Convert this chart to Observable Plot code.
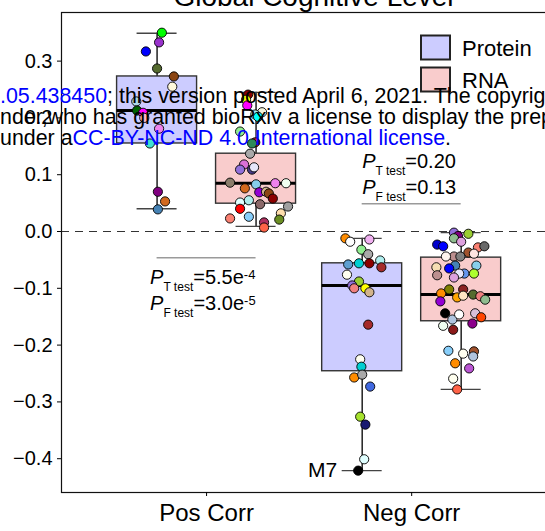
<!DOCTYPE html>
<html>
<head>
<meta charset="utf-8">
<script src="https://cdn.jsdelivr.net/npm/d3@7"></script>
<script src="https://cdn.jsdelivr.net/npm/@observablehq/plot@0.6"></script>
<style>
  html, body { margin: 0; padding: 0; background: #fff; overflow: hidden; }
  #wrap { position: relative; width: 545px; height: 531px; overflow: hidden; }
  #wrap svg { max-width: none !important; }
  #overlay { position: absolute; left: 0; top: 0; pointer-events: none; }
</style>
</head>
<body>
<div id="wrap"></div>
<script>
// ---- data ---------------------------------------------------------------
const groups = ["Pos Corr", "Neg Corr"];
const assays = ["Protein", "RNA"];
const yTicks = [-0.4, -0.3, -0.2, -0.1, 0.0, 0.1, 0.2, 0.3];

// box summaries, in order: Pos/Protein, Pos/RNA, Neg/Protein, Neg/RNA
const boxGroups   = ["Pos Corr", "Pos Corr", "Neg Corr", "Neg Corr"];
const boxAssays   = ["Protein", "RNA", "Protein", "RNA"];
const whiskerLow  = [0.040, 0.009, -0.421, -0.278];
const quartile1   = [0.155, 0.049, -0.246, -0.158];
const medians     = [0.213, 0.085, -0.095, -0.111];
const quartile3   = [0.273, 0.137, -0.056, -0.046];
const whiskerHigh = [0.349, 0.245, -0.012, -0.002];

// module correlations (value), module colour, spread within the box (-1..1)
const posProteinValues  = [0.350, 0.333, 0.317, 0.287, 0.273, 0.255, 0.229, 0.213, 0.209, 0.200, 0.181, 0.155, 0.070, 0.053, 0.039];
const posProteinModules = ["#00ff00", "#9932cc", "#0000ff", "#556b2f", "#8b4513", "#fff8dc", "#add8e6", "#006400", "#ff00ff", "#ffb6c1", "#ee82ee", "#40e0d0", "#800080", "#d2691e", "#4682b4"];
const posProteinSpread  = [0.12, 0.05, -0.28, 0, 0.42, 0.38, -0.52, -0.50, -0.35, -0.32, 0.05, -0.18, 0.02, 0.2, 0.02];

const posRnaValues  = [0.241, 0.232, 0.222, 0.210, 0.206, 0.202, 0.176, 0.157, 0.155, 0.137, 0.118, 0.109, 0.109, 0.113, 0.086, 0.083, 0.076, 0.085, 0.085, 0.069, 0.070, 0.067, 0.058, 0.051, 0.055, 0.048, 0.040, 0.044, 0.023, 0.026, 0.032, 0.021, 0.016, 0.007];
const posRnaModules = ["#8b0000", "#ffff00", "#ff00ff", "#f5f5dc", "#afeeee", "#00ffff", "#90ee90", "#b22222", "#2e8b57", "#a9a9a9", "#da70d6", "#9370db", "#483d8b", "#e6e6fa", "#8b7d6b", "#87ceeb", "#d2691e", "#ee82ee", "#f0fff0", "#9400d3", "#d2b48c", "#8b4513", "#8b0000", "#e0ffff", "#afeeee", "#8b6969", "#ff0000", "#a0a0a0", "#fa8072", "#87cefa", "#ffdead", "#6b8e23", "#b03060", "#ff6347"];
const posRnaSpread  = [-0.2, -0.25, -0.22, 0.15, -0.02, 0.05, -0.4, -0.02, -0.1, -0.15, -0.3, -0.4, -0.1, -0.05, -0.65, 0, -0.28, 0.48, 0.75, 0.08, 0.25, 0.32, 0.42, -0.4, -0.18, 0.1, -0.4, 0.8, -0.65, -0.18, 0.62, 0.58, 0.2, 0.2];

const negProteinValues  = [-0.012, -0.018, -0.014, -0.032, -0.040, -0.058, -0.056, -0.056, -0.051, -0.063, -0.076, -0.088, -0.095, -0.100, -0.100, -0.107, -0.164, -0.225, -0.238, -0.257, -0.252, -0.273, -0.326, -0.340, -0.401, -0.421];
const negProteinModules = ["#ff8c00", "#ffffff", "#f0b0f0", "#90ee90", "#a9a9a9", "#5f9fd0", "#00ced1", "#8b0000", "#afeeee", "#a52a2a", "#fffff0", "#9acd32", "#9370db", "#f08080", "#ffff00", "#d2b48c", "#a52a2a", "#fffff0", "#00ced1", "#ff8c00", "#a9a9a9", "#4169e1", "#a6e22e", "#191970", "#e0ffff", "#000000"];
const negProteinSpread  = [-0.42, -0.3, 0.18, -0.02, 0.15, -0.35, -0.08, 0.18, 0.45, 0.48, -0.38, -0.08, -0.25, -0.2, 0.08, 0.18, 0.15, -0.05, -0.02, -0.2, 0, 0.2, -0.05, 0.08, 0.05, -0.1];

const negRnaValues  = [-0.002, -0.004, -0.008, -0.012, -0.018, -0.023, -0.026, -0.037, -0.028, -0.026, -0.039, -0.044, -0.044, -0.044, -0.063, -0.077, -0.060, -0.060, -0.065, -0.074, -0.074, -0.081, -0.074, -0.109, -0.102, -0.102, -0.116, -0.113, -0.123, -0.111, -0.114, -0.120, -0.144, -0.155, -0.146, -0.144, -0.151, -0.162, -0.166, -0.173, -0.210, -0.215, -0.211, -0.220, -0.232, -0.241, -0.259, -0.278];
const negRnaModules = ["#9370db", "#9acd32", "#800080", "#8fbc8f", "#dda0dd", "#0000cd", "#0000ff", "#a0522d", "#fa8072", "#696969", "#ffe4e1", "#bc8f8f", "#fff5ee", "#808080", "#f5deb3", "#bc8f8f", "#4682b4", "#87ceeb", "#0000ff", "#6495ed", "#e6e6fa", "#dda0dd", "#adff2f", "#ff8c00", "#808000", "#8b2323", "#ffa500", "#ffe4c4", "#9400d3", "#556b2f", "#f08080", "#8fbc8f", "#000000", "#b0c4de", "#ffffff", "#d8bfd8", "#ff4500", "#8b008b", "#f0fff0", "#8b1a1a", "#87cefa", "#fffff0", "#a0522d", "#b0c4de", "#ff8c00", "#ba55d3", "#fffff0", "#ff6347"];
const negRnaSpread  = [-0.18, 0.18, -0.08, -0.18, 0, -0.6, -0.45, 0.18, 0.42, 0.58, 0.32, -0.18, -0.38, -0.02, -0.62, -0.6, -0.15, 0.38, -0.3, 0.08, -0.05, -0.18, 0.32, -0.5, -0.3, 0.05, -0.1, 0.05, -0.52, 0.3, 0.48, 0.6, -0.4, -0.22, -0.05, 0.35, 0.5, 0.28, -0.45, -0.2, -0.32, 0.05, 0.32, 0.3, -0.15, 0.2, -0.2, -0.1];

// labelled module
const labelName  = "M7";
const labelValue = -0.421;

// test p-values for each correlation group
const pTtest = ["5.5e-4", "0.20"];
const pFtest = ["3.0e-5", "0.13"];

// ---- layout -------------------------------------------------------------
const DODGE = 0.2413, BOX_HALF = 0.195, CAP_HALF = 0.0975;
const assayFill = {Protein: "#ccccff", RNA: "#f9cccc"};
const bracketLevel = [-0.046, 0.049];          // y of the comparison bracket per group
const annotDy = [[26, 52], [-36, -10]];        // baseline offsets of the two p-value lines
const annotDx = [-7, 0];

const boxX = (g, a) => groups.indexOf(g) + 1 + (a === "Protein" ? -DODGE : DODGE);

const boxes = boxGroups.map((g, i) => ({
  group: g, assay: boxAssays[i],
  lo: whiskerLow[i], q1: quartile1[i], med: medians[i], q3: quartile3[i], hi: whiskerHigh[i]
}));

const series = [
  ["Pos Corr", "Protein", posProteinValues, posProteinModules, posProteinSpread],
  ["Pos Corr", "RNA", posRnaValues, posRnaModules, posRnaSpread],
  ["Neg Corr", "Protein", negProteinValues, negProteinModules, negProteinSpread],
  ["Neg Corr", "RNA", negRnaValues, negRnaModules, negRnaSpread]
];
const points = series.flatMap(([g, a, vals, mods, spread]) =>
  vals.map((v, i) => ({group: g, assay: a, value: v, module: mods[i], spread: spread[i]})));

const brackets = groups.map((g, i) => ({group: g, level: bracketLevel[i]}));

// one text mark per p-value line (offsets are constant per mark)
const pValueMarks = groups.flatMap((g, i) => [
  [`P|T test|${pTtest[i]}`, annotDy[i][0]],
  [`P|F test|${pFtest[i]}`, annotDy[i][1]]
].map(([label, dy]) => Plot.text([{group: g, level: bracketLevel[i], label}], {
  x: d => boxX(d.group, "Protein"), y: "level", text: "label",
  dx: annotDx[i], dy, textAnchor: "start", lineAnchor: "bottom", fontSize: 20, fill: "#000"
})));

const fmt = d => (d < -1e-9 ? "\u2212" : "") + Math.abs(d).toFixed(1);

const chart = Plot.plot({
  width: 565,
  height: 531,
  marginLeft: 61,
  marginRight: 0,
  marginTop: 12,
  marginBottom: 39,
  x: {domain: [0.2927, 2.75]},
  y: {domain: [-0.4595, 0.3856]},
  color: {type: "identity"},
  style: {fontFamily: "'Liberation Sans', Arial, Helvetica, sans-serif", background: "white", color: "black", overflow: "visible", maxWidth: "none"},
  marks: [
    Plot.ruleY([0], {stroke: "#333", strokeWidth: 1, strokeDasharray: "8,6"}),
    // whiskers
    Plot.ruleX(boxes, {x: d => boxX(d.group, d.assay), y1: "lo", y2: "hi", stroke: "#111", strokeWidth: 1.4}),
    Plot.ruleY(boxes, {y: "lo", x1: d => boxX(d.group, d.assay) - CAP_HALF, x2: d => boxX(d.group, d.assay) + CAP_HALF, stroke: "#444", strokeWidth: 1.4}),
    Plot.ruleY(boxes, {y: "hi", x1: d => boxX(d.group, d.assay) - CAP_HALF, x2: d => boxX(d.group, d.assay) + CAP_HALF, stroke: "#444", strokeWidth: 1.4}),
    // boxes
    Plot.rect(boxes, {
      x1: d => boxX(d.group, d.assay) - BOX_HALF, x2: d => boxX(d.group, d.assay) + BOX_HALF,
      y1: "q1", y2: "q3", fill: d => assayFill[d.assay], stroke: "#333", strokeWidth: 1.4
    }),
    Plot.ruleY(boxes, {y: "med", x1: d => boxX(d.group, d.assay) - BOX_HALF, x2: d => boxX(d.group, d.assay) + BOX_HALF, stroke: "#000", strokeWidth: 3}),
    // modules
    Plot.dot(points, {
      x: d => boxX(d.group, d.assay) + d.spread * BOX_HALF,
      y: "value", r: 4.6, fill: "module", stroke: "#000", strokeWidth: 0.9
    }),
    // comparison brackets and p-values
    Plot.ruleY(brackets, {y: "level", x1: d => boxX(d.group, "Protein"), x2: d => boxX(d.group, "RNA"), stroke: "#9a9a9a", strokeWidth: 1.5}),
    ...pValueMarks,
    Plot.text([labelName], {
      x: boxX("Neg Corr", "Protein"), y: labelValue, text: d => d,
      dx: -25, textAnchor: "end", fontSize: 21, fill: "#000"
    }),
    // title above the panel
    Plot.text(["Global Cognitive Level"], {frameAnchor: "top", text: d => d, lineAnchor: "bottom", dy: -7, fontSize: 28, fill: "#000"}),
    Plot.frame({stroke: "#111", strokeWidth: 1.2}),
    Plot.axisY(yTicks, {tickFormat: fmt, fontSize: 20, tickSize: 4, tickPadding: 5, label: null}),
    Plot.axisX([1, 2], {tickFormat: d => groups[d - 1], fontSize: 24, tickSize: 4, tickPadding: 7, label: null})
  ]
});

// p-value labels: italic P with subscripted test name, exponent as superscript
d3.select(chart).selectAll("text").each(function () {
  const t = this.textContent;
  if (!t || t.indexOf("|") < 0) return;
  const [p, sub, val] = t.split("|");
  const [mant, exp] = val.split("e");
  const sel = d3.select(this);
  sel.text(null);
  sel.append("tspan").attr("font-style", "italic").text(p);
  sel.append("tspan").attr("font-size", 12).attr("dy", 7.5).text(sub);
  sel.append("tspan").attr("dy", -7.5).text("=" + mant + (exp !== undefined ? "e" : ""));
  if (exp !== undefined) sel.append("tspan").attr("font-size", 13).attr("dy", -5).text(exp);
});

const wrap = document.getElementById("wrap");
wrap.appendChild(chart);

// legend and preprint notice drawn on top
const ov = d3.select(wrap).append("svg").attr("id", "overlay")
  .attr("width", 545).attr("height", 531)
  .style("font-family", "'Liberation Sans', Arial, Helvetica, sans-serif");

assays.forEach((a, i) => {
  ov.append("rect").attr("x", 421).attr("y", 35.5 + i * 32).attr("width", 29).attr("height", 24)
    .attr("fill", assayFill[a]).attr("stroke", "#222").attr("stroke-width", 2);
  ov.append("text").attr("x", 462).attr("y", 55.5 + i * 32).attr("font-size", 22).attr("fill", "#000").text(a);
});

const notice = [
  [[".05.438450", "#0000ff"], ["; this version posted April 6, 2021. The copyright holder for this preprint", "#000"]],
  [["nder,who has granted bioRxiv a license to display the preprint in perpetuity. It is made", "#000"]],
  [["under a", "#000"], ["CC-BY-NC-ND 4.0 International license", "#0000ff"], [".", "#000"]]
];
notice.forEach((parts, i) => {
  const t = ov.append("text").attr("x", 0).attr("y", 103 + i * 21).attr("font-size", 21.4);
  parts.forEach(([s, c]) => t.append("tspan").attr("fill", c).text(s));
});
</script>
</body>
</html>
